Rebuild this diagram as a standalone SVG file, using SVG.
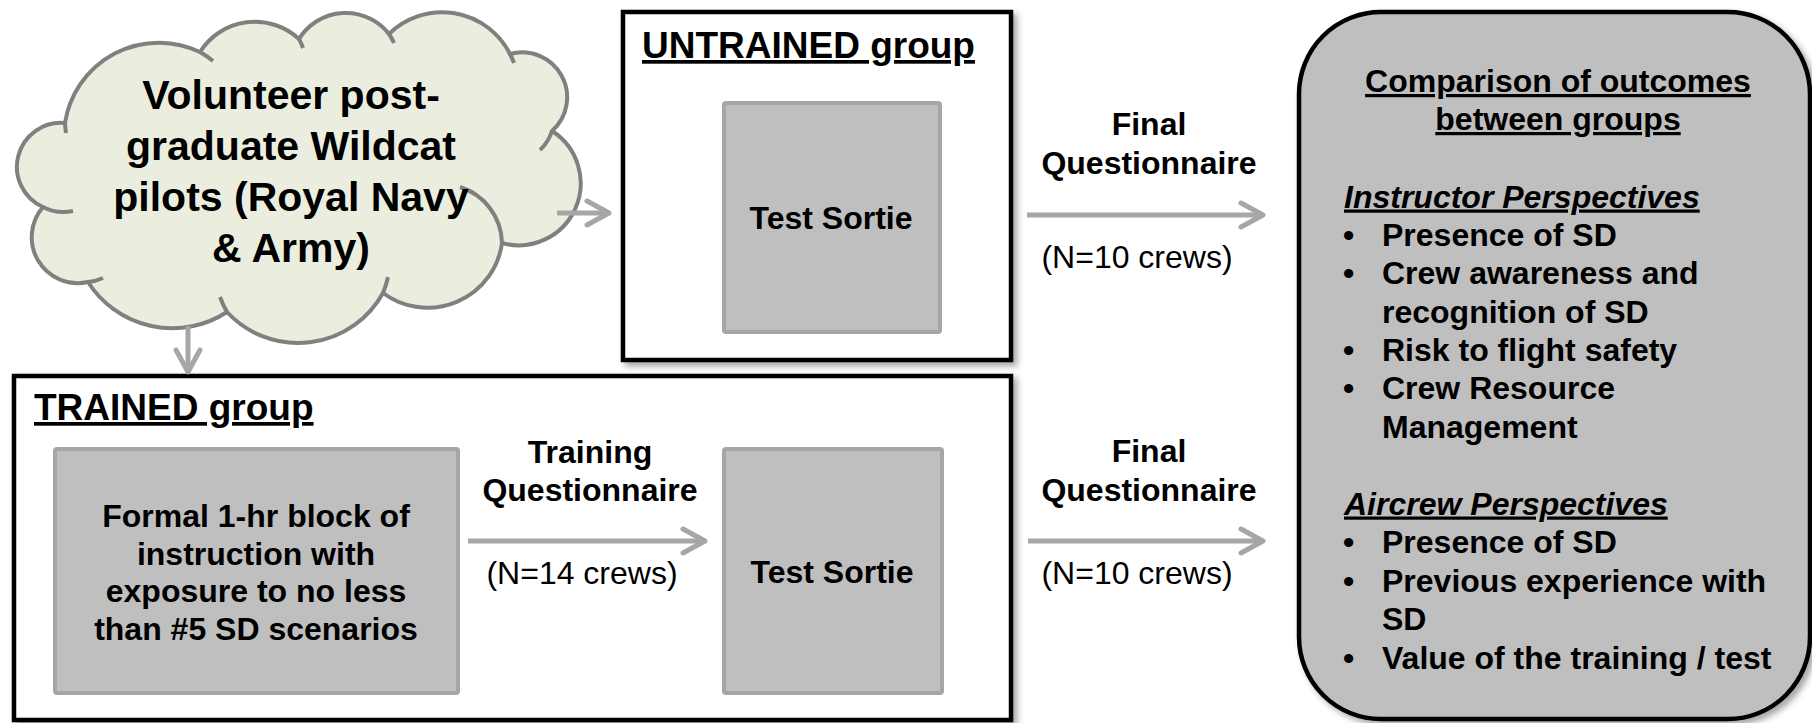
<svg xmlns="http://www.w3.org/2000/svg" width="1812" height="723" viewBox="0 0 1812 723">
<defs>
<filter id="sh" x="-5%" y="-5%" width="115%" height="115%">
<feDropShadow dx="4" dy="4" stdDeviation="3" flood-color="#000" flood-opacity="0.35"/>
</filter>
<marker id="ah" viewBox="0 0 30 30" refX="26" refY="15" markerWidth="30" markerHeight="30" markerUnits="userSpaceOnUse" orient="auto">
<path d="M4,3 L26,15 L4,27" fill="none" stroke="#a6a6a6" stroke-width="5" stroke-linecap="round" stroke-linejoin="round"/>
</marker>
</defs>
<style>
text{font-family:"Liberation Sans",Arial,sans-serif;fill:#000}
.b{font-weight:bold}
.t32{font-size:32px}
.c{text-anchor:middle}
.u{text-decoration:underline}
.frame{fill:#fff;stroke:#000;stroke-width:4.5}
.inner{fill:#bfbfbf;stroke:#a6a6a6;stroke-width:4}
.conn{fill:none;stroke:#a6a6a6;stroke-width:5;marker-end:url(#ah)}
.cl{fill:#ebeedf;stroke:#808080;stroke-width:4;stroke-linejoin:round}
.hk{fill:none;stroke:#808080;stroke-width:4;stroke-linecap:butt}
</style>

<g id="cloud">
<path class="cl" d="M43,207 A44,44 0 0 1 65,123 A95,95 0 0 1 200,52 A65,65 0 0 1 299,39 A55,55 0 0 1 389,34 A76,76 0 0 1 510,54 A45,45 0 0 1 552,131 A62,62 0 0 1 502,243 A75,75 0 0 1 383,293 A97,97 0 0 1 227,312 A100,100 0 0 1 88,282 A46,46 0 0 1 43,207 Z"/>
<path class="hk" d="M73,211 A44,44 0 0 1 43,207 M66,133 A95,95 0 0 1 65,123 M200,52 A95,95 0 0 1 213,61 M299,39 A65,65 0 0 1 303,48 M389,34 A55,55 0 0 1 394,43 M510,54 A76,76 0 0 1 514,63 M552,131 A45,45 0 0 1 540,150 M460,187 A60,60 0 0 1 502,243 M388,277 A97,97 0 0 1 383,293 M227,312 A97,97 0 0 1 220,297 M103,278 A45,45 0 0 1 88,282"/>
<text class="b c" font-size="41" x="291" y="109">Volunteer post-</text>
<text class="b c" font-size="41" x="291" y="160">graduate Wildcat</text>
<text class="b c" font-size="41" x="291" y="211">pilots (Royal Navy</text>
<text class="b c" font-size="41" x="291" y="262">&amp; Army)</text>
</g>

<g id="untrained">
<rect class="frame" x="623" y="12" width="388" height="348" filter="url(#sh)"/>
<text class="b u" font-size="37" x="642" y="58">UNTRAINED group</text>
</g>

<g id="untrained-sortie">
<rect class="inner" x="724" y="103" width="216" height="229" rx="2"/>
<text class="b c t32" x="831" y="229">Test Sortie</text>
</g>

<g id="trained">
<rect class="frame" x="14" y="376" width="997" height="344" filter="url(#sh)"/>
<text class="b u" font-size="37" x="34" y="420">TRAINED group</text>
</g>

<g id="instruction">
<rect class="inner" x="55" y="449" width="403" height="244" rx="2"/>
<text class="b c t32" x="256" y="527">Formal 1-hr block of</text>
<text class="b c t32" x="256" y="565">instruction with</text>
<text class="b c t32" x="256" y="602">exposure to no less</text>
<text class="b c t32" x="256" y="640">than #5 SD scenarios</text>
</g>

<g id="trained-sortie">
<rect class="inner" x="724" y="449" width="218" height="244" rx="2"/>
<text class="b c t32" x="832" y="583">Test Sortie</text>
</g>

<g id="outcomes">
<rect x="1299" y="12" width="511" height="707" rx="82" fill="#bfbfbf" stroke="#000" stroke-width="4.5" filter="url(#sh)"/>
<text class="b c u t32" x="1558" y="92">Comparison of outcomes</text>
<text class="b c u t32" x="1558" y="130">between groups</text>
<text class="b u t32" font-style="italic" x="1344" y="207.5">Instructor Perspectives</text>
<text class="b t32" x="1343" y="245.5">•</text><text class="b t32" x="1382" y="245.5">Presence of SD</text>
<text class="b t32" x="1343" y="284">•</text><text class="b t32" x="1382" y="284">Crew awareness and</text>
<text class="b t32" x="1382" y="322.5">recognition of SD</text>
<text class="b t32" x="1343" y="361">•</text><text class="b t32" x="1382" y="361">Risk to flight safety</text>
<text class="b t32" x="1343" y="399">•</text><text class="b t32" x="1382" y="399">Crew Resource</text>
<text class="b t32" x="1382" y="437.5">Management</text>
<text class="b u t32" font-style="italic" x="1344" y="514.5">Aircrew Perspectives</text>
<text class="b t32" x="1343" y="553">•</text><text class="b t32" x="1382" y="553">Presence of SD</text>
<text class="b t32" x="1343" y="591.5">•</text><text class="b t32" x="1382" y="591.5">Previous experience with</text>
<text class="b t32" x="1382" y="630">SD</text>
<text class="b t32" x="1343" y="668.5">•</text><text class="b t32" x="1382" y="668.5">Value of the training / test</text>
</g>

<g id="connectors">
<path class="conn" d="M557,213 L609,213"/>
<path class="conn" d="M188,326 L188,372"/>
<path class="conn" d="M1027,215 L1263,215"/>
<text class="b c t32" x="1149" y="135">Final</text>
<text class="b c t32" x="1149" y="174">Questionnaire</text>
<text class="c t32" x="1137" y="268">(N=10 crews)</text>
<path class="conn" d="M468,541 L705,541"/>
<text class="b c t32" x="590" y="463">Training</text>
<text class="b c t32" x="590" y="501">Questionnaire</text>
<text class="c t32" x="582" y="584">(N=14 crews)</text>
<path class="conn" d="M1028,541 L1263,541"/>
<text class="b c t32" x="1149" y="462">Final</text>
<text class="b c t32" x="1149" y="501">Questionnaire</text>
<text class="c t32" x="1137" y="584">(N=10 crews)</text>
</g>
</svg>
